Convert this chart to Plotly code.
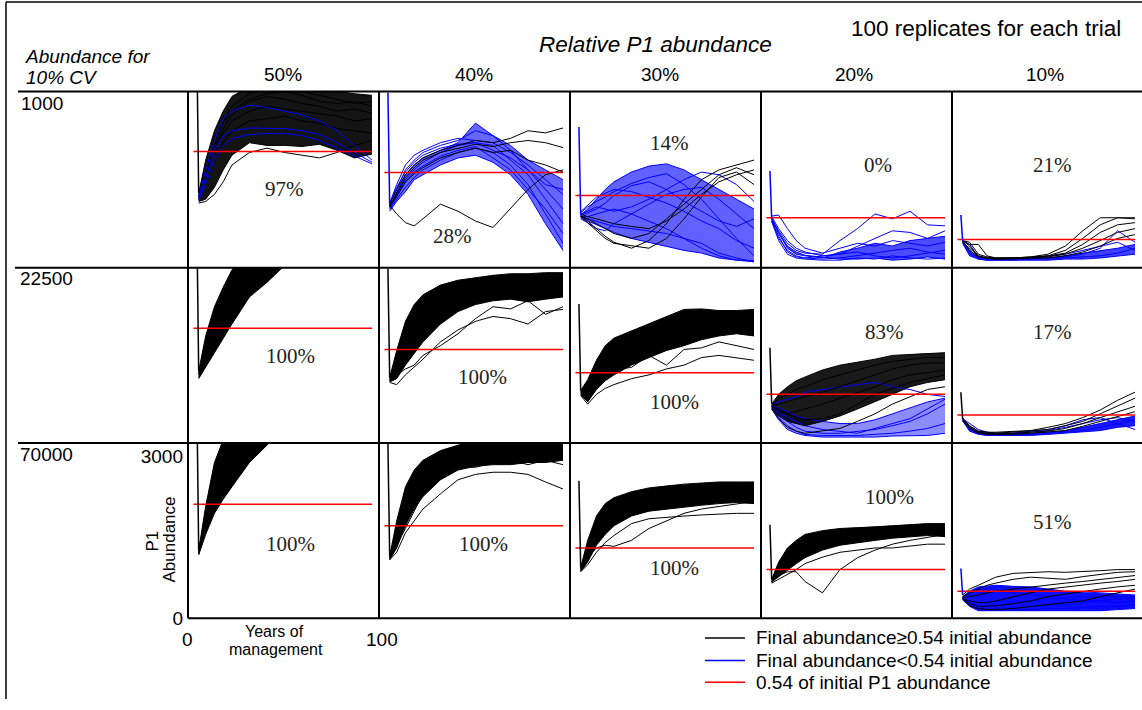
import plotly.graph_objects as go

W, H = 1142, 710
SANS = "Liberation Sans, Arial, sans-serif"
SERIF = "Liberation Serif, Times New Roman, serif"

# ---------------- data ----------------
YEARS = [1, 5, 10, 15, 20, 30, 40, 50, 60, 70, 80, 90, 100]
ROW_LABELS = ["1000", "22500", "70000"]
COL_LABELS = ["50%", "40%", "30%", "20%", "10%"]
PCT_SUCCESS = [["97%", "28%", "14%", "0%", "21%"],
               ["100%", "100%", "100%", "83%", "17%"],
               ["100%", "100%", "100%", "100%", "51%"]]
INITIAL = [[3930, 3220, 2590, 1780, 970],
           [3930, 3220, 2570, 1760, 940],
           [3930, 3220, 2540, 1730, 920]]
THRESHOLD = [[2140, 1750, 1330, 920, 520],
             [2120, 1730, 1300, 900, 520],
             [2110, 1710, 1300, 900, 500]]

# ---- total abundance 1000 ----
N1000_P50_BLACK = [
    [1370, 1980, 2520, 2880, 3150, 3330, 3420, 3380, 3350, 3290, 3240, 3200, 3170],
    [1330, 1800, 2300, 2660, 2880, 3100, 3200, 3240, 3170, 3060, 3020, 3060, 2970],
    [1300, 1660, 2120, 2480, 2700, 2880, 2970, 2920, 2880, 2840, 2790, 2700, 2740],
    [1260, 1530, 1940, 2300, 2520, 2700, 2740, 2790, 2700, 2660, 2560, 2520, 2480],
    [1220, 1260, 1480, 1800, 2070, 2300, 2250, 2250, 2230, 2270, 2160, 2020, 2090],
    [1190, 1220, 1350, 1580, 1890, 2120, 2200, 2120, 2070, 2020, 2120, 2250, 2340],
    [1280, 1710, 2200, 2560, 2810, 3060, 3150, 3100, 3020, 2970, 2880, 2920, 2840],
    [1310, 1760, 2340, 2700, 2970, 3200, 3330, 3280, 3240, 3170, 3100, 3020, 3060],
]
N1000_P50_BLUE = [
    [1300, 1800, 2340, 2740, 2880, 2990, 2950, 2880, 2810, 2700, 2520, 2250, 1980],
    [1260, 1660, 2160, 2430, 2520, 2570, 2570, 2560, 2520, 2450, 2300, 2120, 1940],
    [1240, 1530, 1980, 2250, 2380, 2450, 2470, 2470, 2430, 2340, 2200, 2050, 1910],
]
N1000_P40_BLACK = [
    [1150, 990, 830, 770, 900, 1170, 1040, 860, 740, 1080, 1440, 1710, 1800],
    [1170, 1440, 1710, 1890, 2020, 2160, 2250, 2340, 2300, 2380, 2520, 2480, 2570],
    [1130, 1370, 1660, 1840, 1980, 2120, 2200, 2270, 2230, 2300, 2340, 2300, 2210],
    [1120, 1330, 1580, 1730, 1840, 2020, 2120, 2200, 2120, 2160, 1980, 1890, 1760],
]
N1000_P40_BLUE = [
    [1150, 1440, 1800, 1980, 2120, 2250, 2340, 2520, 2430, 2160, 1800, 1440, 1080],
    [1120, 1350, 1620, 1800, 1940, 2120, 2250, 2300, 2250, 1980, 1710, 1260, 810],
    [1190, 1530, 1890, 2070, 2160, 2300, 2380, 2340, 2300, 2120, 1890, 1620, 1350],
    [1080, 1260, 1480, 1660, 1800, 1980, 2120, 2200, 2120, 1890, 1530, 990, 450],
    [1130, 1400, 1710, 1890, 2020, 2160, 2300, 2660, 2430, 2250, 1980, 1800, 1620],
    [1040, 1220, 1400, 1620, 1710, 1890, 2020, 2070, 1940, 1710, 1350, 810, 320],
    [1170, 1480, 1760, 1940, 2070, 2200, 2270, 2300, 2160, 2020, 1800, 1530, 1440],
    [1100, 1300, 1580, 1760, 1870, 2050, 2160, 2230, 2020, 1800, 1440, 1080, 630],
]
N1000_P30_BLACK = [
    [970, 860, 720, 580, 470, 360, 500, 810, 1260, 1620, 1800, 1890, 1980],
    [950, 900, 810, 720, 630, 540, 630, 900, 1170, 1440, 1710, 1840, 1710],
    [990, 940, 900, 860, 810, 760, 720, 860, 1080, 1350, 1580, 1710, 1800],
    [940, 830, 680, 540, 450, 400, 360, 540, 900, 1300, 1660, 1760, 1530],
]
N1000_P30_BLUE = [
    [970, 1080, 1260, 1440, 1580, 1760, 1870, 1910, 1800, 1620, 1440, 1260, 1080],
    [940, 900, 860, 810, 760, 720, 680, 630, 540, 450, 270, 180, 110],
    [1010, 1120, 1220, 1300, 1400, 1550, 1660, 1730, 1530, 1260, 900, 540, 220],
    [900, 830, 720, 680, 810, 990, 1170, 1350, 1440, 1480, 1260, 990, 720],
    [990, 1040, 1120, 1080, 1040, 1120, 1260, 1440, 1620, 1760, 1710, 1530, 1220],
    [950, 940, 990, 1040, 1080, 990, 860, 720, 540, 360, 220, 140, 110],
    [1030, 1150, 1300, 1370, 1440, 1400, 1300, 1190, 1040, 860, 720, 500, 360],
    [920, 860, 790, 720, 650, 540, 470, 400, 320, 270, 180, 140, 130],
    [970, 1010, 1080, 1190, 1330, 1510, 1580, 1440, 1220, 1040, 860, 760, 900],
]
N1000_P20_BLACK = []
N1000_P20_BLUE = [
    [900, 680, 450, 320, 270, 250, 500, 720, 990, 900, 1040, 790, 770],
    [940, 720, 500, 360, 290, 220, 250, 400, 540, 680, 650, 540, 680],
    [860, 540, 320, 220, 180, 160, 180, 220, 270, 320, 360, 290, 250],
    [920, 630, 360, 250, 220, 180, 290, 360, 450, 400, 500, 540, 580],
    [850, 500, 250, 180, 160, 140, 140, 180, 160, 220, 180, 160, 180],
    [950, 970, 720, 500, 360, 270, 360, 450, 400, 500, 450, 400, 470],
    [880, 580, 290, 200, 180, 220, 250, 290, 220, 180, 220, 270, 320],
    [900, 650, 400, 290, 230, 200, 160, 160, 180, 140, 160, 200, 160],
]
N1000_P10_BLACK = [
    [500, 470, 250, 200, 180, 180, 200, 250, 400, 680, 920, 920, 920],
    [490, 430, 430, 220, 180, 180, 180, 220, 320, 540, 790, 920, 900],
    [470, 360, 220, 180, 180, 180, 200, 220, 270, 430, 650, 790, 830],
    [500, 400, 220, 180, 160, 180, 180, 200, 250, 360, 500, 650, 720],
    [490, 320, 200, 180, 160, 160, 180, 180, 220, 290, 400, 540, 610],
]
N1000_P10_BLUE = [
    [500, 290, 180, 160, 160, 160, 160, 180, 200, 250, 360, 680, 470],
    [470, 250, 160, 140, 140, 140, 160, 160, 180, 200, 220, 270, 360],
    [490, 320, 200, 160, 160, 180, 180, 180, 220, 270, 320, 360, 430],
    [450, 220, 160, 140, 140, 140, 140, 140, 160, 160, 180, 220, 250],
    [500, 430, 200, 160, 160, 160, 180, 220, 250, 320, 400, 470, 320],
]

# ---- total abundance 22500 ----
N22500_P50_BLACK = [
    [1330, 1980, 2520, 2880, 3200, 3600, 3870, 4050, 4140, 4180, 4230, 4250, 4280],
    [1300, 1800, 2340, 2700, 3020, 3460, 3780, 3960, 4070, 4140, 4180, 4210, 4230],
    [1260, 1620, 2160, 2520, 2790, 3280, 3600, 3820, 3960, 4050, 4100, 4140, 4180],
    [1220, 1480, 1800, 2160, 2430, 2880, 3150, 3420, 3600, 3740, 3850, 3920, 3960],
    [1190, 1400, 1660, 1940, 2200, 2700, 2970, 3280, 3510, 3670, 3780, 3850, 3890],
    [1280, 1710, 2250, 2610, 2880, 3350, 3690, 3890, 4030, 4100, 4160, 4190, 4210],
]
N22500_P50_BLUE = []
N22500_P40_BLACK = [
    [1210, 1710, 2250, 2560, 2740, 2920, 3010, 3060, 3100, 3130, 3130, 3150, 3150],
    [1190, 1530, 2020, 2340, 2560, 2790, 2880, 2970, 3020, 3060, 3060, 3020, 3060],
    [1170, 1400, 1800, 2120, 2340, 2610, 2740, 2840, 2880, 2920, 2930, 2880, 2920],
    [1150, 1300, 1620, 1890, 2120, 2430, 2610, 2700, 2770, 2810, 2790, 2740, 2790],
    [1130, 1190, 1440, 1660, 1870, 2200, 2430, 2560, 2630, 2660, 2610, 2660, 2700],
    [1120, 1080, 1260, 1400, 1550, 1870, 2090, 2250, 2340, 2300, 2200, 2430, 2470],
    [1170, 1260, 1370, 1440, 1620, 1800, 2020, 2300, 2520, 2480, 2630, 2380, 2520],
]
N22500_P40_BLUE = []
N22500_P30_BLACK = [
    [970, 1170, 1530, 1800, 1940, 2070, 2210, 2340, 2470, 2480, 2450, 2450, 2470],
    [950, 1080, 1400, 1620, 1760, 1940, 2090, 2200, 2300, 2340, 2380, 2410, 2380],
    [940, 990, 1260, 1440, 1580, 1760, 1910, 2020, 2120, 2200, 2230, 2270, 2250],
    [920, 860, 1120, 1300, 1440, 1620, 1760, 1870, 1980, 2050, 2120, 2160, 2120],
    [900, 760, 990, 1150, 1260, 1440, 1580, 1710, 1800, 1910, 1980, 2020, 1980],
    [880, 720, 900, 1010, 1080, 1190, 1260, 1370, 1440, 1580, 1620, 1580, 1530],
    [940, 900, 1120, 1260, 1350, 1400, 1620, 1440, 1730, 1760, 1870, 1800, 1730],
]
N22500_P30_BLUE = []
N22500_P20_BLACK = [
    [720, 900, 1040, 1150, 1220, 1350, 1440, 1490, 1550, 1620, 1640, 1660, 1670],
    [700, 810, 900, 990, 1040, 1170, 1260, 1350, 1440, 1510, 1550, 1580, 1580],
    [680, 720, 760, 810, 860, 940, 1040, 1150, 1260, 1370, 1440, 1480, 1480],
    [670, 580, 540, 580, 630, 720, 830, 940, 1040, 1170, 1260, 1300, 1350],
    [650, 500, 400, 360, 320, 400, 500, 630, 760, 900, 1040, 1120, 1170],
    [630, 450, 290, 220, 180, 220, 270, 400, 540, 720, 860, 990, 1040],
    [680, 630, 540, 470, 430, 450, 540, 720, 900, 1010, 1120, 1190, 1260],
]
N22500_P20_BLUE = [
    [720, 760, 810, 860, 940, 990, 1040, 1080, 1120, 1040, 990, 900, 860],
    [670, 540, 400, 290, 220, 180, 180, 220, 250, 320, 400, 540, 720],
    [650, 470, 320, 220, 160, 140, 140, 140, 160, 180, 220, 270, 360],
    [680, 580, 470, 400, 320, 250, 220, 180, 270, 360, 450, 630, 810],
    [630, 430, 250, 180, 140, 110, 110, 110, 110, 130, 140, 140, 180],
    [700, 650, 580, 500, 450, 400, 360, 360, 430, 540, 650, 760, 830],
]
N22500_P10_BLACK = [
    [450, 320, 220, 200, 200, 220, 230, 290, 360, 470, 610, 790, 940],
    [430, 290, 200, 180, 180, 200, 220, 250, 320, 400, 540, 680, 830],
    [450, 310, 220, 200, 180, 180, 200, 220, 270, 360, 470, 580, 680],
    [410, 270, 180, 160, 160, 160, 180, 200, 230, 310, 400, 500, 580],
]
N22500_P10_BLUE = [
    [470, 290, 200, 180, 180, 180, 180, 200, 230, 290, 360, 430, 500],
    [430, 250, 180, 160, 160, 160, 160, 180, 200, 230, 290, 360, 430],
    [450, 360, 250, 200, 180, 180, 200, 230, 290, 360, 430, 470, 400],
    [410, 220, 160, 140, 140, 140, 140, 160, 180, 200, 230, 290, 320],
    [450, 270, 180, 160, 160, 180, 220, 250, 320, 430, 470, 360, 250],
]

# ---- total abundance 70000 ----
N70000_P50_BLACK = [
    [1260, 2070, 2880, 3330, 3780, 4500, 5040, 5400, 5600, 5700, 5760, 5800, 5830],
    [1220, 1870, 2610, 3100, 3510, 4230, 4770, 5100, 5300, 5420, 5500, 5550, 5580],
    [1210, 1760, 2430, 2880, 3280, 3960, 4460, 4800, 5000, 5130, 5220, 5280, 5320],
    [1190, 1660, 2200, 2610, 2970, 3600, 4050, 4380, 4600, 4750, 4850, 4920, 4960],
    [1170, 1550, 1940, 2200, 2430, 2880, 3200, 3510, 3700, 3850, 3960, 4030, 4090],
    [1240, 1980, 2790, 3280, 3690, 4410, 4950, 5300, 5500, 5620, 5700, 5750, 5780],
]
N70000_P50_BLUE = []
N70000_P40_BLACK = [
    [1150, 1800, 2430, 2740, 2920, 3100, 3200, 3280, 3310, 3330, 3330, 3350, 3350],
    [1130, 1660, 2250, 2610, 2790, 2990, 3100, 3170, 3200, 3200, 3220, 3240, 3240],
    [1120, 1530, 2070, 2430, 2630, 2880, 2990, 3060, 3100, 3110, 3100, 3130, 3130],
    [1100, 1400, 1890, 2250, 2480, 2740, 2880, 2950, 2990, 2990, 2970, 3010, 3020],
    [1080, 1300, 1710, 2020, 2250, 2560, 2740, 2810, 2840, 2840, 2880, 2880, 2920],
    [1080, 1220, 1580, 1800, 2020, 2300, 2560, 2660, 2700, 2700, 2660, 2520, 2390],
    [1120, 1350, 1660, 1980, 2300, 2630, 2810, 2790, 2880, 2920, 2840, 2920, 2840],
]
N70000_P40_BLUE = []
N70000_P30_BLACK = [
    [940, 1440, 1890, 2120, 2230, 2340, 2410, 2450, 2480, 2500, 2520, 2520, 2520],
    [920, 1350, 1760, 1980, 2120, 2250, 2300, 2360, 2390, 2430, 2450, 2470, 2450],
    [900, 1260, 1620, 1840, 1980, 2120, 2200, 2250, 2290, 2320, 2340, 2360, 2340],
    [880, 1150, 1480, 1690, 1840, 2020, 2090, 2140, 2180, 2210, 2230, 2250, 2250],
    [860, 1040, 1350, 1550, 1710, 1890, 1980, 2020, 2050, 2090, 2120, 2140, 2120],
    [860, 990, 1220, 1400, 1530, 1750, 1840, 1870, 1890, 1910, 1930, 1940, 1940],
    [900, 1120, 1300, 1350, 1330, 1440, 1660, 1800, 1940, 2020, 2070, 2120, 2160],
]
N70000_P30_BLUE = []
N70000_P20_BLACK = [
    [720, 1040, 1300, 1440, 1550, 1620, 1660, 1670, 1690, 1710, 1730, 1750, 1750],
    [700, 970, 1220, 1370, 1480, 1570, 1600, 1620, 1660, 1670, 1690, 1710, 1710],
    [680, 900, 1120, 1260, 1370, 1480, 1530, 1570, 1600, 1620, 1640, 1660, 1660],
    [670, 830, 1010, 1130, 1260, 1390, 1460, 1510, 1550, 1570, 1580, 1600, 1580],
    [670, 770, 900, 1010, 1120, 1260, 1350, 1400, 1440, 1480, 1510, 1530, 1510],
    [650, 720, 810, 900, 1010, 1130, 1220, 1260, 1300, 1300, 1330, 1370, 1370],
    [670, 790, 860, 860, 680, 470, 900, 1120, 1260, 1370, 1440, 1490, 1550],
]
N70000_P20_BLUE = []
N70000_P10_BLACK = [
    [430, 540, 610, 680, 760, 830, 850, 860, 850, 860, 880, 900, 900],
    [400, 470, 540, 610, 650, 720, 760, 740, 720, 770, 810, 850, 860],
    [380, 400, 430, 470, 500, 540, 580, 610, 650, 680, 720, 760, 790],
    [360, 320, 290, 290, 320, 400, 470, 540, 580, 610, 650, 680, 720],
    [360, 270, 220, 220, 230, 270, 320, 400, 450, 500, 540, 580, 610],
    [380, 230, 180, 160, 160, 180, 220, 250, 290, 320, 400, 470, 540],
]
N70000_P10_BLUE = [
    [400, 500, 580, 590, 610, 590, 580, 540, 500, 490, 470, 450, 430],
    [380, 430, 470, 500, 500, 470, 430, 400, 380, 400, 400, 410, 400],
    [360, 320, 290, 290, 310, 320, 320, 360, 360, 320, 320, 290, 320],
    [380, 250, 180, 160, 160, 160, 160, 180, 180, 200, 220, 220, 250],
    [360, 290, 220, 180, 180, 200, 220, 230, 250, 290, 320, 360, 360],
    [340, 220, 140, 140, 130, 130, 130, 130, 140, 140, 140, 160, 180],
]

BLACK = [
    [N1000_P50_BLACK, N1000_P40_BLACK, N1000_P30_BLACK, N1000_P20_BLACK, N1000_P10_BLACK],
    [N22500_P50_BLACK, N22500_P40_BLACK, N22500_P30_BLACK, N22500_P20_BLACK, N22500_P10_BLACK],
    [N70000_P50_BLACK, N70000_P40_BLACK, N70000_P30_BLACK, N70000_P20_BLACK, N70000_P10_BLACK],
]
BLUE = [
    [N1000_P50_BLUE, N1000_P40_BLUE, N1000_P30_BLUE, N1000_P20_BLUE, N1000_P10_BLUE],
    [N22500_P50_BLUE, N22500_P40_BLUE, N22500_P30_BLUE, N22500_P20_BLUE, N22500_P10_BLUE],
    [N70000_P50_BLUE, N70000_P40_BLUE, N70000_P30_BLUE, N70000_P20_BLUE, N70000_P10_BLUE],
]

# ---------------- styling / layout ----------------
BLACK_C = "#000000"
BLUE_C = "#0000ff"
RED_C = "#ff0000"

# dense-core shading between two replicate series: (group, lo index, hi index, fill colour)
BANDS = {
    (0, 0): [("black", 4, 0, "rgba(0,0,0,0.92)")],
    (0, 1): [("blue", 5, 4, "rgba(0,0,255,0.6)")],
    (0, 2): [("blue", 7, 0, "rgba(0,0,255,0.62)")],
    (0, 3): [("blue", 7, 3, "rgba(0,0,255,0.7)")],
    (0, 4): [("blue", 3, 2, "rgba(0,0,255,0.75)")],
    (1, 0): [("black", 4, 0, "rgba(0,0,0,1)")],
    (1, 1): [("black", 4, 0, "rgba(0,0,0,1)")],
    (1, 2): [("black", 4, 0, "rgba(0,0,0,1)")],
    (1, 3): [("blue", 4, 5, "rgba(0,0,255,0.45)"), ("black", 4, 0, "rgba(0,0,0,0.9)")],
    (1, 4): [("blue", 3, 0, "rgba(0,0,255,0.9)")],
    (2, 0): [("black", 4, 0, "rgba(0,0,0,1)")],
    (2, 1): [("black", 4, 0, "rgba(0,0,0,1)")],
    (2, 2): [("black", 4, 0, "rgba(0,0,0,1)")],
    (2, 3): [("black", 4, 0, "rgba(0,0,0,1)")],
    (2, 4): [("blue", 5, 0, "rgba(0,0,255,0.95)")],
}
SPIKE_COLOR = [[BLACK_C, BLUE_C, BLUE_C, BLUE_C, BLUE_C],
               [BLACK_C, BLACK_C, BLACK_C, BLACK_C, BLACK_C],
               [BLACK_C, BLACK_C, BLACK_C, BLACK_C, BLUE_C]]
BLUE_ON_TOP = {(0, 0)}

COL_LEFT = [188, 379, 570, 761, 952]
COL_W = 191
ROW_TOP = [93, 272, 450]
ROW_BOT = [272, 450, 628]
XRANGE = [-5.1, 104]
YRANGE = [0, 3240]

fig = go.Figure()


def px_x(x):
    return x / W


def px_y(y):
    return 1 - y / H


for r in range(3):
    for c in range(5):
        k = r * 5 + c + 1
        xa = "x" if k == 1 else f"x{k}"
        ya = "y" if k == 1 else f"y{k}"
        groups = {"black": BLACK[r][c], "blue": BLUE[r][c]}
        for grp, lo, hi, fc in BANDS.get((r, c), []):
            series = groups[grp]
            fig.add_trace(go.Scatter(
                x=YEARS + YEARS[::-1], y=series[lo] + series[hi][::-1],
                mode="lines", fill="toself", fillcolor=fc,
                line=dict(width=0), hoverinfo="skip", showlegend=False,
                xaxis=xa, yaxis=ya))
        order = ["black", "blue"] if (r, c) in BLUE_ON_TOP else ["blue", "black"]
        for grp in order:
            col = BLACK_C if grp == "black" else BLUE_C
            for s in groups[grp]:
                fig.add_trace(go.Scatter(
                    x=YEARS, y=s, mode="lines",
                    line=dict(color=col, width=1),
                    showlegend=False, hoverinfo="skip", xaxis=xa, yaxis=ya))
        # 0.54 of initial abundance
        fig.add_trace(go.Scatter(
            x=[-2, 100], y=[THRESHOLD[r][c]] * 2, mode="lines",
            line=dict(color=RED_C, width=1.5), showlegend=False,
            hoverinfo="skip", xaxis=xa, yaxis=ya))
        # initial abundance (year 0) dropping to first managed year
        first = (BLACK[r][c] or BLUE[r][c])[0][0]
        fig.add_trace(go.Scatter(
            x=[0, 1], y=[INITIAL[r][c], first], mode="lines",
            line=dict(color=SPIKE_COLOR[r][c], width=1.5), showlegend=False,
            hoverinfo="skip", xaxis=xa, yaxis=ya))

        x0 = px_x(COL_LEFT[c])
        x1 = min(1.0, px_x(COL_LEFT[c] + COL_W))
        y0 = px_y(ROW_BOT[r])
        y1 = px_y(ROW_TOP[r])
        xname = "xaxis" if k == 1 else f"xaxis{k}"
        yname = "yaxis" if k == 1 else f"yaxis{k}"
        show_y = (r == 2 and c == 0)
        fig.layout[xname] = dict(domain=[x0, x1], range=XRANGE, visible=False,
                                 anchor=ya, fixedrange=True)
        fig.layout[yname] = dict(domain=[y0, y1], range=YRANGE, anchor=xa,
                                 showgrid=False, zeroline=False, showline=False,
                                 ticks="", showticklabels=show_y,
                                 tickvals=[0, 3000], ticktext=["0", "3000"],
                                 tickfont=dict(family=SANS, size=19, color="black"),
                                 ticklabelstandoff=4, fixedrange=True)

# ---------- frame / grid lines ----------
shapes = []


def hline(y, xa, xb, w=2):
    shapes.append(dict(type="line", xref="paper", yref="paper", layer="above",
                       x0=px_x(xa), x1=px_x(xb), y0=px_y(y), y1=px_y(y),
                       line=dict(color="black", width=w)))


def vline(x, ya, yb, w=2):
    shapes.append(dict(type="line", xref="paper", yref="paper", layer="above",
                       x0=px_x(x), x1=px_x(x), y0=px_y(ya), y1=px_y(yb),
                       line=dict(color="black", width=w)))


vline(6, 2, 710, 1.5)
hline(2, 6, 1142, 1.5)
hline(93, 18, 1142)
hline(272, 15, 1142)
hline(450, 18, 1142)
hline(628, 188, 1142)
for xl in COL_LEFT:
    vline(xl, 93, 628)

# legend (drawn)
LEGEND_ITEMS = [(BLACK_C, "Final abundance≥0.54 initial abundance"),
                (BLUE_C, "Final abundance&lt;0.54 initial abundance"),
                (RED_C, "0.54 of initial P1 abundance")]
LEG_Y = [648, 671, 693]
anns = []


def ann(text, x, y, size, xanchor="center", family=SANS, angle=0, color="black"):
    anns.append(dict(text=text, x=px_x(x), y=px_y(y), xref="paper", yref="paper",
                     xanchor=xanchor, yanchor="middle", showarrow=False,
                     textangle=angle, font=dict(family=family, size=size, color=color)))


for (colr, label), ly in zip(LEGEND_ITEMS, LEG_Y):
    shapes.append(dict(type="line", xref="paper", yref="paper",
                       x0=px_x(705), x1=px_x(745), y0=px_y(ly), y1=px_y(ly),
                       line=dict(color=colr, width=1.5)))
    ann(label, 754, ly, 19, xanchor="left")

# ---------- texts ----------
ann("<i>Abundance for</i>", 23, 57, 19, xanchor="left")
ann("<i>10% CV</i>", 24, 79, 19, xanchor="left")
ann("<i>Relative P1 abundance</i>", 656, 45, 22.5)
ann("100 replicates for each trial", 986, 29, 22.5)
for c, lab in enumerate(COL_LABELS):
    ann(lab, [283, 474, 660, 854, 1045][c], 76, 19)
ann(ROW_LABELS[0], 19, 105, 19, xanchor="left")
ann(ROW_LABELS[1], 18, 283, 19, xanchor="left")
ann(ROW_LABELS[2], 18, 462, 19, xanchor="left")
ann("P1", 152, 550, 17, angle=-90)
ann("Abundance", 170, 548, 17, angle=-90)
ann("0", 188, 650, 19)
ann("100", 382, 650, 19)
ann("Years of", 274, 641, 16)
ann("management", 276, 660, 16)

PCT_POS = [[(284, 192), (452, 240), (669, 145), (878, 168), (1052, 168)],
           [(290, 362), (482, 383), (674, 408), (884, 337), (1052, 337)],
           [(290, 553), (483, 553), (674, 577), (889, 505), (1052, 530)]]
for r in range(3):
    for c in range(5):
        px, py = PCT_POS[r][c]
        ann(PCT_SUCCESS[r][c], px, py, 21, family=SERIF, color="#222222")

fig.update_layout(
    width=W, height=H, margin=dict(l=0, r=0, t=0, b=0),
    paper_bgcolor="white", plot_bgcolor="white",
    showlegend=False, shapes=shapes, annotations=anns,
)

fig.write_html("out.html",
               config={"displayModeBar": False},
               post_script="document.body.style.margin='0px';"
                           "document.body.style.overflow='hidden';")
